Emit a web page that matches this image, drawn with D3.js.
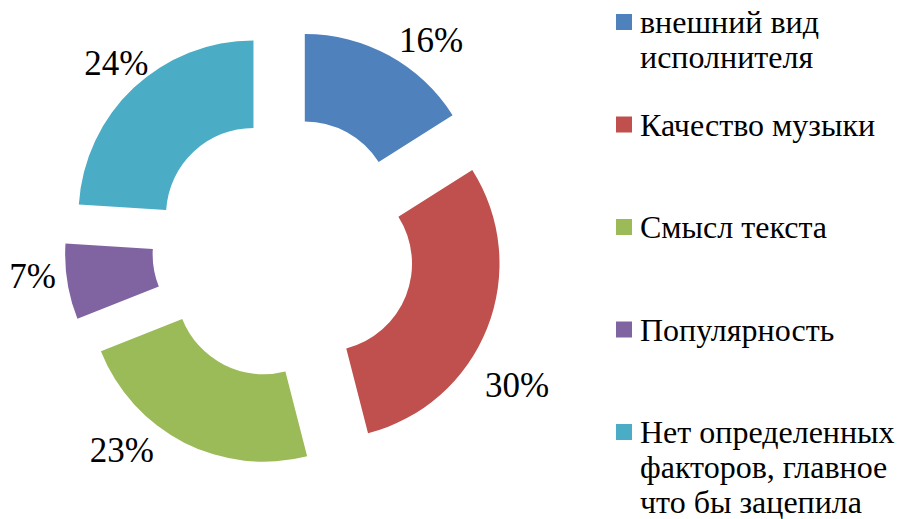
<!DOCTYPE html>
<html>
<head>
<meta charset="utf-8">
<script src="https://cdn.jsdelivr.net/npm/d3@7"></script>
<style>
  body { margin: 0; background: #fff; }
  svg { display: block; }
  svg text { font-family: "Liberation Serif", "Times New Roman", serif; }
</style>
</head>
<body>
<script>
// data
const categories = [
  "внешний вид\nисполнителя",
  "Качество музыки",
  "Смысл текста",
  "Популярность",
  "Нет определенных\nфакторов, главное\nчто бы зацепила"
];
const values = [16, 30, 23, 7, 24];
const colors = ["#4F81BD", "#C0504D", "#9BBB59", "#8064A2", "#4BACC6"];

var width = 897, height = 519;
var cx = 283.6, cy = 247.5;
var outerR = 175, innerR = 87.5, explode = 44;
var labelR = 215;
// hand tweaks so the % labels sit where excel left them
var labelNudge = [[22.6, 31.2], [-7.4, 54.5], [-44.3, -16], [4.8, 0.3], [10, 16.3]];

var svg = d3.select("body").append("svg")
    .attr("width", width)
    .attr("height", height);

var pie = d3.pie().sort(null).value(function(d) { return d; });
var arcs = pie(values);
var total = d3.sum(values);

var arc = d3.arc().innerRadius(innerR).outerRadius(outerR);
var labelArc = d3.arc().innerRadius(labelR).outerRadius(labelR);

function offset(d) {
  var a = (d.startAngle + d.endAngle) / 2;
  return [Math.sin(a) * explode, -Math.cos(a) * explode];
}

var g = svg.append("g")
    .attr("transform", "translate(" + cx + "," + cy + ")");

var slice = g.selectAll("g.slice")
    .data(arcs)
    .enter()
    .append("g")
    .attr("class", "slice")
    .attr("transform", function(d) {
      var o = offset(d);
      return "translate(" + o[0] + "," + o[1] + ")";
    });

slice.append("path")
    .attr("d", arc)
    .attr("fill", function(d, i) { return colors[i]; });

slice.append("text")
    .attr("transform", function(d, i) {
      var c = labelArc.centroid(d);
      return "translate(" + (c[0] + labelNudge[i][0]) + "," + (c[1] + labelNudge[i][1]) + ")";
    })
    .attr("text-anchor", "middle")
    .style("font-size", "35px")
    .attr("fill", "#000")
    .text(function(d) { return Math.round(d.value / total * 100) + "%"; });

// legend
var legend = svg.append("g").attr("class", "legend");

var item = legend.selectAll("g.item")
    .data(categories)
    .enter()
    .append("g")
    .attr("class", "item")
    .attr("transform", function(d, i) { return "translate(0," + (33 + i * 102.5) + ")"; });

item.append("rect")
    .attr("x", 616)
    .attr("y", -19)
    .attr("width", 16)
    .attr("height", 16)
    .attr("fill", function(d, i) { return colors[i]; });

item.append("text")
    .style("font-size", "32px")
    .attr("fill", "#000")
    .selectAll("tspan")
    .data(function(d) { return d.split("\n"); })
    .enter()
    .append("tspan")
    .attr("x", 640)
    .attr("y", function(d, i) { return i * 35; })
    .text(function(d) { return d; });
</script>
</body>
</html>
